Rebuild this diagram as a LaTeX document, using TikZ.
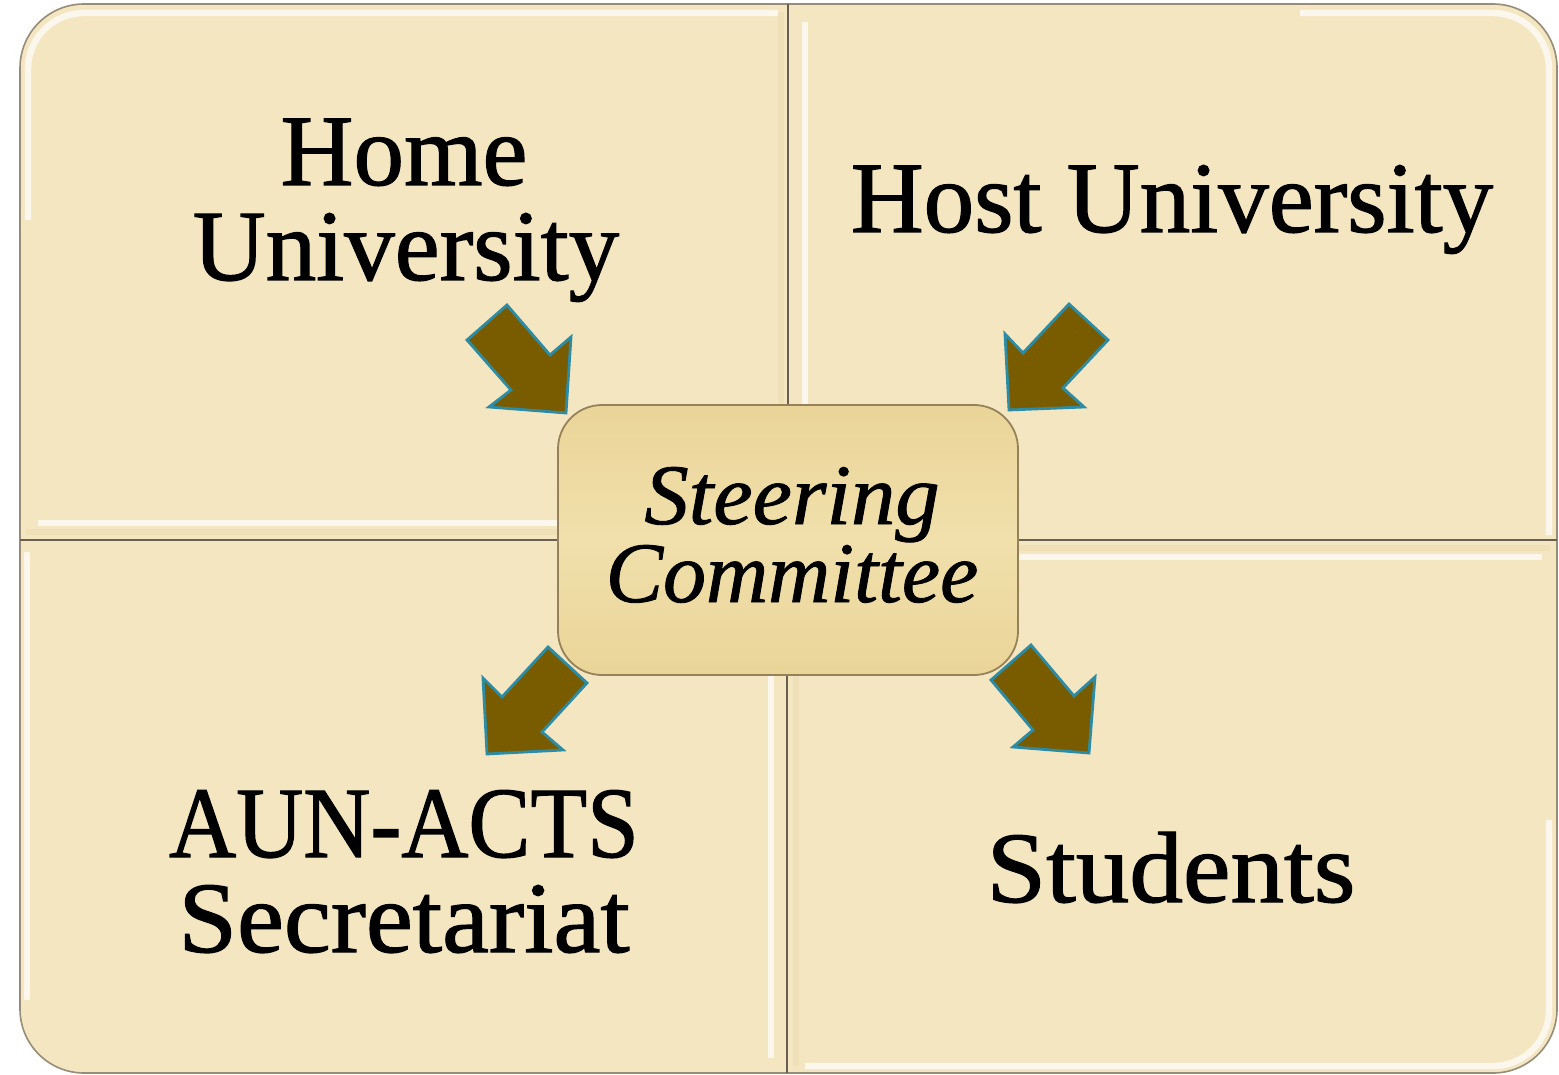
\documentclass[tikz,border=0pt]{standalone}
\usepackage{graphicx}
\usepackage{fontspec}
\setmainfont{Liberation Serif}[FakeBold=1.0]
\newfontfamily\lblfont{Liberation Serif}[FakeBold=1.2]
\newfontfamily\scfont{Liberation Serif}[UprightFont=*-Italic,FakeBold=1.0]
\definecolor{parch}{RGB}{244,230,193}
\definecolor{parchdark}{RGB}{232,214,170}
\definecolor{framegray}{RGB}{150,140,120}
\definecolor{divgray}{RGB}{105,95,80}
\definecolor{boxfill}{RGB}{234,212,152}
\definecolor{boxlight}{RGB}{241,224,172}
\definecolor{boxedge}{RGB}{150,130,90}
\definecolor{arrowfill}{RGB}{122,92,0}
\definecolor{arrowedge}{RGB}{45,140,165}
\begin{document}
\begin{tikzpicture}[x=0.5pt,y=-0.5pt,
  lbl/.style={anchor=base,inner sep=0pt,font=\lblfont\fontsize{50.5pt}{50.5pt}\selectfont},
  slbl/.style={anchor=base,inner sep=0pt,font=\scfont\fontsize{43pt}{43pt}\selectfont},
  arr/.style={fill=arrowfill,draw=arrowedge,line width=1.4pt,line join=miter},
  hl/.style={white,line width=3.2pt,opacity=0.7,line cap=butt},
  divider/.style={draw=divgray,line width=0.9pt}]
\useasboundingbox (0,0) rectangle (1559,1075);
\fill[white] (0,0) rectangle (1559,1075);
% outer frame
\draw[fill=parch,draw=framegray,line width=0.8pt,rounded corners=32pt] (20,4) rectangle (1557,1073);
% soft inner shading near tile edges
\begin{scope}[opacity=0.35]
  \draw[parchdark,line width=3pt] (26,532) -- (782,532);
  \draw[parchdark,line width=3pt] (781,12) -- (781,532);
  \draw[parchdark,line width=3pt] (796,548) -- (796,1066);
  \draw[parchdark,line width=3pt] (796,548) -- (1550,548);
\end{scope}
% dividers
\draw[divider] (788,4) -- (788,540);
\draw[divider] (787,540) -- (787,1073);
\draw[divider] (20,540) -- (1557,540);
% bevel highlights
\draw[hl,rounded corners=28pt] (28,220) -- (28,13) -- (778,13);
\draw[hl] (38,523) -- (778,523);
\draw[hl] (805,22) -- (805,530);
\draw[hl,rounded corners=28pt] (1549,535) -- (1549,13) -- (1300,13);
\draw[hl] (27,552) -- (27,1000);
\draw[hl] (771,550) -- (771,1058);
\draw[hl] (797,557) -- (1542,557);
\draw[hl,rounded corners=28pt] (805,1066) -- (1549,1066) -- (1549,820);
% center box
\node[draw=boxedge,line width=0.9pt,top color=boxfill,bottom color=boxfill,middle color=boxlight,
  rounded corners=22pt,minimum width=230pt,minimum height=135pt,inner sep=0pt] (sc) at (788,540) {};
% texts
\node[lbl] (home1) at (404,185) {Home};
\node[lbl] (home2) at (406,280) {University};
\node[lbl] (host) at (1172,232) {Host University};
\node[lbl] (aun1) at (404,857) {\scalebox{0.92}[1]{AUN-ACTS}};
\node[lbl] (aun2) at (404,952) {\scalebox{1.045}[1]{Secretariat}};
\node[lbl] (stud) at (1171,902) {\scalebox{1.06}[1]{Students}};
\node[slbl] (sc1) at (792,524) {\scalebox{1.03}[1]{Steering}};
\node[slbl] (sc2) at (792,602) {Committee};
% arrows
\draw[arr] (507,305) -- (467,340) -- (511,390) -- (489,407) -- (566,413) -- (571,337) -- (550,355) -- cycle;
\draw[arr] (1069,304) -- (1108,340) -- (1063,388) -- (1084,407) -- (1009,410) -- (1005,334) -- (1023,353) -- cycle;
\draw[arr] (548,647) -- (587,683) -- (542,732) -- (563,750) -- (487,754) -- (483,678) -- (502,697) -- cycle;
\draw[arr] (1031,645) -- (991,680) -- (1033,730) -- (1013,747) -- (1089,753) -- (1095,677) -- (1074,696) -- cycle;
\end{tikzpicture}
\end{document}
